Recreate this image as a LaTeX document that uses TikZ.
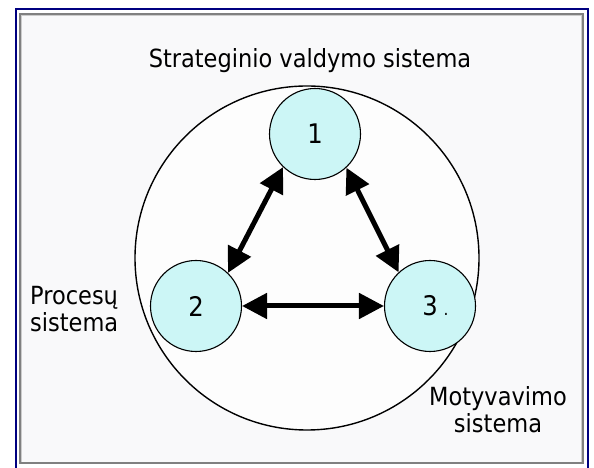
\documentclass[tikz,border=0pt]{standalone}
\usepackage{fontspec}
\setmainfont{DejaVu Sans Condensed}
\usetikzlibrary{arrows.meta}
\definecolor{framenavy}{RGB}{0,0,128}
\definecolor{framegray}{RGB}{128,128,128}
\definecolor{paper}{RGB}{249,249,250}
\definecolor{subfill}{RGB}{204,246,246}
\tikzset{
  subsys/.style={circle, draw=black, line width=1.1pt, fill=subfill,
    minimum size=91pt, inner sep=0pt, font=\fontsize{27}{27}\selectfont},
  link/.style={line width=5pt,
    {Triangle[length=25pt,width=25pt]}-{Triangle[length=25pt,width=25pt]}},
  caption/.style={font=\fontsize{25}{27}\selectfont, inner sep=0pt}
}
\begin{document}
\begin{tikzpicture}[x=1pt,y=1pt]
\useasboundingbox (0,0) rectangle (594,468);
\fill[white] (0,0) rectangle (594,468);
% page frame
\fill[paper] (20,5) rectangle (583,454);
\draw[framegray!40, line width=1pt] (21.5,5.5) rectangle (581.5,452.5);
\draw[framegray, line width=1.5pt] (20,5) rectangle (583,454);
\draw[framenavy, line width=2pt] (15.7,-5) -- (15.7,458.7) -- (587.7,458.7) -- (587.7,-5);
% enclosing system
\node[circle, draw=black, line width=1.4pt, fill=white!60!paper,
  minimum size=344pt, inner sep=0pt] (outer) at (307,210) {};
% subsystems
\node[subsys] (c1) at (315,334) {1};
\node[subsys] (c2) at (196,162) {2};
\node[subsys] (c3) at (430,162) {3\rlap{\hspace{6pt}\fontsize{17}{17}\selectfont.}};
% links
\draw[link] (c1.226) -- (c2.46);
\draw[link] (c1.313) -- (c3.133);
\draw[link] (c2.east) -- (c3.west);
% labels
\node[caption, anchor=base] (tstrat) at (310,400) {Strateginio valdymo sistema};
\node[caption, anchor=base west, align=left] (tproc) at (30,136) {Procesų\\sistema};
\node[caption, anchor=base, align=center] (tmot) at (498,35) {Motyvavimo\\sistema};
\end{tikzpicture}
\end{document}
